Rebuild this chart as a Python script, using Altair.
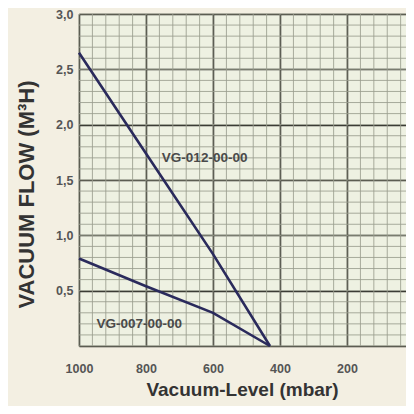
import altair as alt
import pandas as pd

# Curve data
vg012_x = [1000, 800, 600, 430]
vg012_y = [2.65, 1.74, 0.83, 0.0]
vg007_x = [1000, 800, 600, 430]
vg007_y = [0.79, 0.54, 0.30, 0.0]

x_major = [1000, 800, 600, 400, 200, 0]
y_major = [0, 0.5, 1.0, 1.5, 2.0, 2.5, 3.0]
x_minor = list(range(40, 1001, 40))
y_minor = [round(i * 0.1, 1) for i in range(0, 31)]

label_names = ["VG-012-00-00", "VG-007-00-00"]
label_x = [625, 820]
label_y = [1.7, 0.2]

df = pd.DataFrame(
    {"mbar": vg012_x + vg007_x,
     "flow": vg012_y + vg007_y,
     "series": ["VG-012-00-00"] * len(vg012_x) + ["VG-007-00-00"] * len(vg007_x)}
)
labels = pd.DataFrame({"name": label_names, "mbar": label_x, "flow": label_y})

xs = alt.Scale(domain=[24, 1000], reverse=True, nice=False, zero=False)
ys = alt.Scale(domain=[0, 3.0], nice=False)

x_axis = alt.Axis(
    values=x_major, title="Vacuum-Level (mbar)", grid=True,
    gridColor="#2e2e28", gridWidth=1.5, gridOpacity=1,
    ticks=False, domain=False, labelFontSize=12.5, labelFontWeight="bold",
    labelColor="#555", labelPadding=16, titleFontSize=19,
    titleFontWeight="bold", titleColor="#333", titlePadding=6,
    labelFont="Liberation Sans", titleFont="Liberation Sans",
    labelFlush=False, titleX=163, format="d",
)
y_axis = alt.Axis(
    values=y_major, title="VACUUM FLOW (M³H)", grid=True,
    gridColor="#2e2e28", gridWidth=1.5, gridOpacity=1,
    ticks=False, domain=False, labelFontSize=12.5, labelFontWeight="bold",
    labelColor="#555", labelPadding=6, titleFontSize=22,
    titleFontWeight="bold", titleColor="#333", titlePadding=17,
    labelFont="Liberation Sans", titleFont="Liberation Sans",
    labelExpr="datum.value == 0 ? '' : replace(format(datum.value, '.1f'), '.', ',')",
    labelFlush=False, titleY=180,
)

minor_v = alt.Chart(pd.DataFrame({"v": x_minor})).mark_rule(
    color="#9a9e8e", strokeWidth=1, opacity=0.85
).encode(x=alt.X("v:Q", scale=xs, axis=x_axis))
minor_h = alt.Chart(pd.DataFrame({"v": y_minor})).mark_rule(
    color="#9a9e8e", strokeWidth=1, opacity=0.85
).encode(y=alt.Y("v:Q", scale=ys, axis=y_axis))

lines = alt.Chart(df).mark_line(color="#2a2a5c", strokeWidth=2.6).encode(
    x=alt.X("mbar:Q", scale=xs, axis=x_axis),
    y=alt.Y("flow:Q", scale=ys, axis=y_axis),
    detail="series:N",
)

texts = alt.Chart(labels).mark_text(
    font="Liberation Sans", fontSize=13.5, fontWeight="bold", color="#4a4a4a"
).encode(
    x=alt.X("mbar:Q", scale=xs, axis=x_axis),
    y=alt.Y("flow:Q", scale=ys, axis=y_axis),
    text="name:N",
)

chart = alt.layer(minor_v, minor_h, lines, texts).properties(
    width=327, height=332,
    autosize=alt.AutoSizeParams(type="none"),
    padding={"left": 71, "top": 6, "right": 0, "bottom": 60},
    background="#f3efe2",
).configure_view(fill="#eef1e2", stroke=None)

chart.save("out.html", embed_options={"renderer": "svg", "actions": False})
